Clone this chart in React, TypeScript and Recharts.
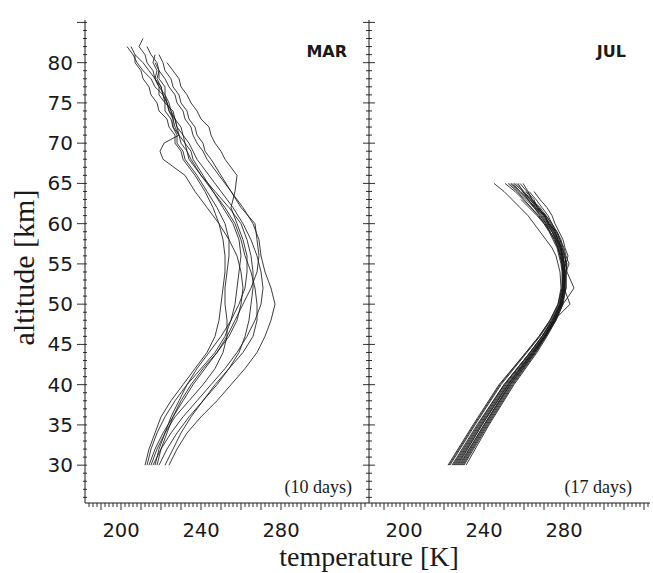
import React from "react";
import { LineChart, Line, XAxis, YAxis } from "recharts";

const INK = "#1a1a1a";

// altitude grid [km] shared by the MAR profiles
const MAR_ALT = [30, 32, 34, 36, 38, 40, 42, 44, 46, 48, 50, 52, 54, 56, 58, 60, 62, 64, 66, 68, 69, 70, 71, 72, 73, 74, 75, 76, 77, 78, 79, 80, 81, 82, 83];

// MAR temperature profiles [K]
const mar1 = [213, 215, 218, 222, 227, 233, 240, 247, 252, 255, 257, 258, 259, 260, 259, 256, 251, 246, 240, 235, 233, 232, 229, 228, 227, 224, 223, 221, 220, 217, 216, 213, 212, 209, 211];
const mar2 = [216, 220, 225, 231, 238, 245, 252, 258, 263, 267, 270, 271, 270, 268, 265, 261, 256, 250, 244, 238, 236, 234, 231, 230, 227, 226, 222, 221, 217, 215, 211, 208, 206, 203];
const mar3 = [218, 220, 223, 226, 230, 235, 241, 248, 254, 258, 260, 261, 260, 258, 254, 249, 243, 237, 232, 221, 219.5, 221.5, 229, 227, 226, 225, 223, 222, 219, 217, 214, 211, 207];
const mar4 = [224, 228, 233, 240, 248, 255, 262, 268, 272, 275, 277, 275, 272, 270, 269, 266, 261, 255, 249, 243, 241, 238, 236, 235, 232, 231, 228, 227, 224, 222, 219, 218, 215, 213];
const mar5 = [214, 217, 221, 226, 231, 236, 242, 248, 253, 257, 261, 265, 268, 269, 268, 267, 260, 255, 250, 245, 242, 241, 238, 237, 234, 233, 230, 229, 226, 225, 222, 221, 219];
const mar6 = [217, 219, 222, 225, 229, 233, 238, 244, 250, 255, 259, 262, 263, 263, 261, 258, 255, 257, 258, 252, 250, 247, 245, 244, 240, 238, 235, 233, 230, 229, 226, 223];
const mar7 = [219, 223, 228, 234, 241, 248, 254, 259, 262, 264, 265, 266, 266, 265, 263, 260, 254, 247, 240, 234, 233, 230, 229, 226, 225, 222, 222, 219, 219, 217, 218, 216, 217];
const mar8 = [215, 218, 222, 227, 234, 241, 247, 251, 253, 253, 252, 252, 253, 254, 254, 252, 248, 243, 238, 232, 231, 228, 228, 226, 226, 224, 223, 221, 220, 218, 219];
const mar9 = [212, 214, 217, 220, 225, 231, 237, 243, 247, 249, 250, 251, 252, 252, 251, 249, 246, 242, 237, 231, 230, 227, 227, 224, 223, 219, 218, 215, 214, 211, 210, 207, 207, 205];
const mar10 = [222, 226, 230, 235, 241, 247, 254, 261, 266, 268, 268, 267, 265, 262, 260, 257, 252, 246, 241, 236, 235, 232, 231, 228, 227, 225, 224, 222, 222, 219, 219, 217];

// altitude grid [km] shared by the JUL profiles
const JUL_ALT = [30, 35, 40, 44, 46, 48, 50, 52, 54, 55, 56, 57, 58, 59, 60, 61, 62, 63, 64, 65];

// JUL temperature profiles [K]
const jul1 = [222, 234.5, 247.5, 261, 267.5, 273, 277, 278.5, 278, 277, 276, 274, 271, 268, 265, 262, 258, 254, 250, 245];
const jul2 = [224, 236.5, 250, 263, 269, 274, 278, 279.5, 279.5, 279, 278, 277, 275.5, 273, 271, 268, 265, 262, 259.5, 257];
const jul3 = [229, 241, 253.5, 265.5, 271, 276, 279.5, 281, 281, 281.5, 280, 279, 278, 276, 274, 271, 268, 264, 261];
const jul4 = [227, 239, 252, 264.5, 270.5, 275.5, 279, 280.5, 281, 282.5, 281, 280, 278, 276.5, 272, 270.5, 267, 263.5, 260, 256];
const jul5 = [231, 242.5, 255, 266.5, 271.5, 276, 279.5, 285, 281.5, 281, 282, 280.5, 279.5, 277.5, 275.5, 274, 271.5, 268, 265];
const jul6 = [223, 235.5, 248.5, 261.5, 268, 273.5, 277.5, 279, 279, 278.5, 277.5, 276.5, 274.5, 272.5, 270, 267.5, 263.5, 260, 256.5, 252];
const jul7 = [225, 237.5, 250.5, 263, 269, 274.5, 278, 280, 280.5, 280, 279, 278.5, 277, 275.5, 273, 270, 267.5, 264];
const jul8 = [228, 240, 253, 265, 270.5, 275.5, 279, 280.5, 279.5, 281, 280.5, 279, 277, 275, 272.5, 270, 266, 263, 259.5, 255];
const jul9 = [226, 238.5, 251.5, 264, 270, 275, 283, 280, 280, 279.5, 279, 278, 276.5, 274.5, 272, 269.5, 266.5, 263, 259];
const jul10 = [230, 242, 254.5, 266, 271, 275.5, 278.5, 279.5, 279.5, 279, 278.5, 277.5, 276, 274, 272, 270.5, 265.5, 262, 258, 253.5];
const jul11 = [222.5, 235, 248, 261, 267.5, 273, 277, 279, 279.5, 279, 278, 277, 275, 273, 270.5, 267, 263.5, 259.5, 255.5, 250.5];
const jul12 = [227.5, 240, 252.5, 264.5, 270, 275, 278.5, 280, 280, 280.5, 279.5, 278.5, 277.5, 275.5, 273.5, 271, 266.5, 265, 261.5, 258];
const jul13 = [225.5, 238, 251, 263.5, 269.5, 274.5, 278, 279.5, 279.5, 279, 278.5, 277, 275.5, 273, 270, 266.5, 262.5, 258.5];
const jul14 = [229.5, 241.5, 254, 265.5, 270.5, 275, 278.5, 280, 280.5, 280, 279.5, 278.5, 277, 275, 272.5, 270.5, 267, 264, 262, 259.5];
const jul15 = [224.5, 237, 250, 263, 269, 274, 278, 279.5, 280, 279.5, 279, 278, 276, 274, 271, 268.5, 265, 261, 257, 253];
const jul16 = [228.5, 240.5, 253, 265, 270.5, 275.5, 279, 281, 281, 281, 280.5, 279.5, 278.5, 276.5, 274, 272, 269, 266, 262.5];
const jul17 = [226.5, 239, 252, 264, 270, 275, 278.5, 280, 280.5, 280, 279.5, 278, 276.5, 274, 271.5, 269, 265.5, 262, 258, 254.5];

const MAR_PROFILES = [mar1, mar2, mar3, mar4, mar5, mar6, mar7, mar8, mar9, mar10];
const JUL_PROFILES = [jul1, jul2, jul3, jul4, jul5, jul6, jul7, jul8, jul9, jul10, jul11, jul12, jul13, jul14, jul15, jul16, jul17];

const X_LABELS = [200, 240, 280];
const Y_LABELS = [30, 35, 40, 45, 50, 55, 60, 65, 70, 75, 80];

const X_TICKS = Array.from({ length: 70 }, (_, i) => 184 + i * 2);
const Y_TICKS = Array.from({ length: 60 }, (_, i) => 26 + i);
const Y_DOMAIN: [number, number] = [25.3, 85.3];

const rows = (alt: number[], temps: number[]) => temps.map((t, i) => ({ alt: alt[i], t }));

const BottomTick = (props: any) => {
  const { x, y, payload } = props;
  const v = payload.value;
  const len = v % 10 === 0 ? 7 : 4;
  return (
    <g>
      <line x1={x} y1={y} x2={x} y2={y + len} stroke={INK} strokeWidth={0.9} />
      {X_LABELS.includes(v) && (
        <text x={x} y={y + 34} textAnchor="middle" fontFamily="DejaVu Sans" fontSize={19.5} fill={INK}>
          {v}
        </text>
      )}
    </g>
  );
};

const TopTick = (props: any) => {
  const { x, y, payload } = props;
  const len = payload.value % 10 === 0 ? 7 : 4;
  return <line x1={x} y1={y} x2={x} y2={y - len} stroke={INK} strokeWidth={0.9} />;
};

const LeftLabelTick = (props: any) => {
  const { x, y, payload } = props;
  const v = payload.value;
  const major = v % 5 === 0;
  return (
    <g>
      <line x1={x - (major ? 8 : 2)} y1={y} x2={x + 2} y2={y} stroke={INK} strokeWidth={0.9} />
      {Y_LABELS.includes(v) && (
        <text x={x - 12} y={y + 7} textAnchor="end" fontFamily="DejaVu Sans" fontSize={20} fill={INK}>
          {v}
        </text>
      )}
    </g>
  );
};

const CrossTick = (props: any) => {
  const { x, y, payload } = props;
  const half = payload.value % 5 === 0 ? 6 : 3;
  return <line x1={x - half} y1={y} x2={x + half} y2={y} stroke={INK} strokeWidth={0.9} />;
};

interface PanelProps {
  profiles: number[][];
  alt: number[];
  xDomain: [number, number];
  width: number;
  yWidth: number;
  marginRight: number;
  leftLabels: boolean;
}

function Panel({ profiles, alt, xDomain, width, yWidth, marginRight, leftLabels }: PanelProps) {
  return (
    <LineChart width={width} height={573} margin={{ top: 20, right: marginRight, bottom: 0, left: 0 }}>
      <XAxis
        xAxisId="b"
        dataKey="t"
        type="number"
        domain={xDomain}
        allowDataOverflow
        ticks={X_TICKS}
        interval={0}
        height={70}
        tickSize={0}
        tickMargin={0}
        tickLine={false}
        tick={BottomTick}
        axisLine={{ stroke: INK, strokeWidth: 1 }}
      />
      <XAxis
        xAxisId="top"
        orientation="top"
        type="number"
        domain={xDomain}
        allowDataOverflow
        ticks={X_TICKS}
        interval={0}
        height={0}
        tickSize={0}
        tickMargin={0}
        tickLine={false}
        tick={TopTick}
        axisLine={{ stroke: INK, strokeWidth: 1 }}
      />
      <YAxis
        yAxisId="l"
        dataKey="alt"
        type="number"
        domain={Y_DOMAIN}
        allowDataOverflow
        ticks={Y_TICKS}
        interval={0}
        width={yWidth}
        tickSize={0}
        tickMargin={0}
        tickLine={false}
        tick={leftLabels ? LeftLabelTick : CrossTick}
        axisLine={{ stroke: INK, strokeWidth: 1 }}
      />
      <YAxis
        yAxisId="r"
        orientation="right"
        type="number"
        domain={Y_DOMAIN}
        allowDataOverflow
        ticks={Y_TICKS}
        interval={0}
        width={0}
        tickSize={0}
        tickMargin={0}
        tickLine={false}
        tick={CrossTick}
        axisLine={{ stroke: INK, strokeWidth: 1 }}
      />
      {profiles.map((temps, i) => (
        <Line
          key={i}
          xAxisId="b"
          yAxisId="l"
          data={rows(alt, temps)}
          dataKey="alt"
          type="linear"
          stroke={INK}
          strokeWidth={0.85}
          dot={false}
          activeDot={false}
          isAnimationActive={false}
        />
      ))}
    </LineChart>
  );
}

export default function App() {
  return (
    <div style={{ position: "absolute", left: 0, top: 0, width: 653, height: 573, background: "#fff" }}>
      <div style={{ position: "absolute", left: 0, top: 0 }}>
        <Panel profiles={MAR_PROFILES} alt={MAR_ALT} xDomain={[182, 324]} width={375} yWidth={85} marginRight={6} leftLabels />
      </div>
      <div style={{ position: "absolute", left: 360, top: 0 }}>
        <Panel profiles={JUL_PROFILES} alt={JUL_ALT} xDomain={[182.5, 323]} width={293} yWidth={9} marginRight={3} leftLabels={false} />
      </div>
      <svg width={653} height={573} style={{ position: "absolute", left: 0, top: 0, pointerEvents: "none" }}>
        <text x={347} y={57} textAnchor="end" fontFamily="DejaVu Sans" fontWeight="bold" fontSize={16} fill={INK}>
          MAR
        </text>
        <text x={626} y={57} textAnchor="end" fontFamily="DejaVu Sans" fontWeight="bold" fontSize={16} fill={INK}>
          JUL
        </text>
        <text x={352} y={493} textAnchor="end" fontFamily="Liberation Serif" fontSize={18} fill={INK}>
          (10 days)
        </text>
        <text x={632} y={493} textAnchor="end" fontFamily="Liberation Serif" fontSize={18} fill={INK}>
          (17 days)
        </text>
        <text x={369} y={566} textAnchor="middle" fontFamily="Liberation Serif" fontSize={28} fill={INK}>
          temperature [K]
        </text>
        <text
          transform="translate(33.5, 267.5) rotate(-90)"
          textAnchor="middle"
          fontFamily="Liberation Serif"
          fontSize={30}
          fill={INK}
        >
          altitude [km]
        </text>
      </svg>
    </div>
  );
}
